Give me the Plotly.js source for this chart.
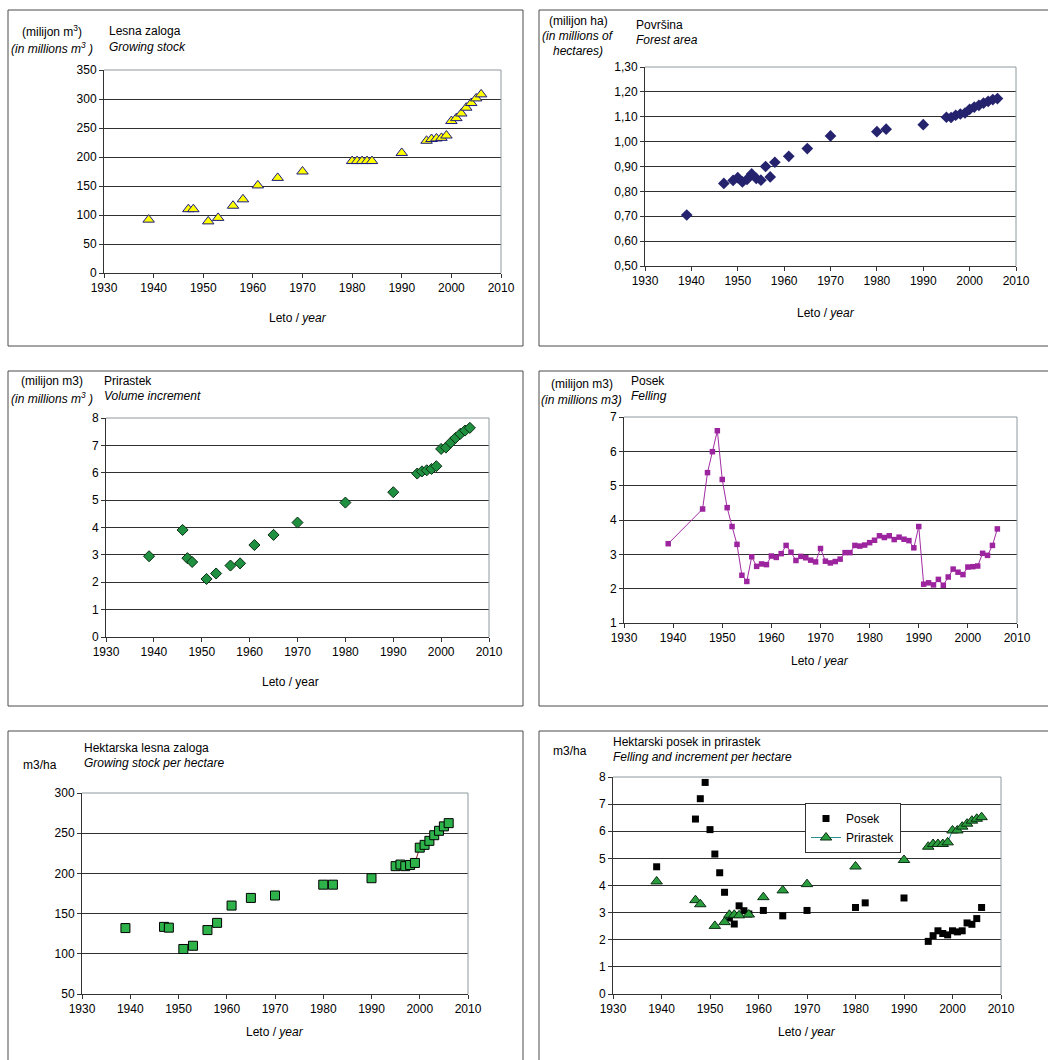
<!DOCTYPE html>
<html>
<head>
<meta charset="utf-8">
<script src="https://cdn.plot.ly/plotly-3.0.1.min.js"></script>
<style>
html,body{margin:0;padding:0;background:#fff;}
#chart{width:1048px;height:1060px;}
</style>
</head>
<body>
<div id="chart"></div>
<script>
// ---------------- DATA ----------------
const xTickYears = [1930, 1940, 1950, 1960, 1970, 1980, 1990, 2000, 2010];

// Lesna zaloga / Growing stock (million m3)
const stockYears  = [1939, 1947, 1948, 1951, 1953, 1956, 1958, 1961, 1965, 1970, 1980, 1981, 1982, 1983, 1984, 1990, 1995, 1996, 1997, 1998, 1999, 2000, 2001, 2002, 2003, 2004, 2005, 2006];
const stockValues = [92, 110, 110, 89, 95, 116, 127, 151, 164, 175, 193, 193, 193, 193, 193, 207, 228, 231, 232, 233, 237, 262, 267, 275, 285, 293, 301, 308];

// Površina / Forest area (million ha)
const areaYears  = [1939, 1947, 1949, 1950, 1951, 1952, 1953, 1954, 1955, 1956, 1957, 1958, 1961, 1965, 1970, 1980, 1982, 1990, 1995, 1996, 1997, 1998, 1999, 2000, 2001, 2002, 2003, 2004, 2005, 2006];
const areaValues = [0.705, 0.832, 0.844, 0.855, 0.838, 0.848, 0.870, 0.852, 0.845, 0.900, 0.858, 0.917, 0.941, 0.972, 1.023, 1.040, 1.050, 1.068, 1.098, 1.097, 1.106, 1.111, 1.115, 1.130, 1.139, 1.146, 1.155, 1.162, 1.169, 1.173];

// Prirastek / Volume increment (million m3)
const incrYears  = [1939, 1946, 1947, 1948, 1951, 1953, 1956, 1958, 1961, 1965, 1970, 1980, 1990, 1995, 1996, 1997, 1998, 1999, 2000, 2001, 2002, 2003, 2004, 2005, 2006];
const incrValues = [2.95, 3.91, 2.88, 2.74, 2.12, 2.32, 2.61, 2.69, 3.36, 3.73, 4.18, 4.91, 5.29, 5.97, 6.05, 6.09, 6.14, 6.24, 6.87, 6.92, 7.10, 7.27, 7.42, 7.54, 7.64];

// Posek / Felling (million m3)
const fellYears  = [1939, 1946, 1947, 1948, 1949, 1950, 1951, 1952, 1953, 1954, 1955, 1956, 1957, 1958, 1959, 1960, 1961, 1962, 1963, 1964, 1965, 1966, 1967, 1968, 1969, 1970, 1971, 1972, 1973, 1974, 1975, 1976, 1977, 1978, 1979, 1980, 1981, 1982, 1983, 1984, 1985, 1986, 1987, 1988, 1989, 1990, 1991, 1992, 1993, 1994, 1995, 1996, 1997, 1998, 1999, 2000, 2001, 2002, 2003, 2004, 2005, 2006];
const fellValues = [3.31, 4.32, 5.38, 5.99, 6.60, 5.18, 4.36, 3.81, 3.29, 2.39, 2.21, 2.93, 2.65, 2.72, 2.70, 2.95, 2.91, 3.02, 3.26, 3.06, 2.82, 2.94, 2.90, 2.83, 2.78, 3.17, 2.80, 2.75, 2.79, 2.86, 3.05, 3.05, 3.26, 3.24, 3.27, 3.34, 3.41, 3.54, 3.49, 3.54, 3.43, 3.50, 3.44, 3.40, 3.19, 3.81, 2.13, 2.17, 2.11, 2.27, 2.10, 2.34, 2.57, 2.48, 2.41, 2.63, 2.64, 2.66, 3.03, 2.97, 3.26, 3.74];

// Hektarska lesna zaloga / Growing stock per hectare (m3/ha)
const stockHaYears  = [1939, 1947, 1948, 1951, 1953, 1956, 1958, 1961, 1965, 1970, 1980, 1982, 1990, 1995, 1996, 1997, 1998, 1999, 2000, 2001, 2002, 2003, 2004, 2005, 2006];
const stockHaValues = [132, 133.5, 132.5, 106, 110, 129.5, 138.5, 160, 169.5, 172.5, 186, 186, 194, 209, 211, 209, 210.5, 213, 232, 235.5, 240.5, 247.5, 253, 258.5, 262.5];

// Hektarski posek / Felling per hectare (m3/ha)
const fellHaYears  = [1939, 1947, 1948, 1949, 1950, 1951, 1952, 1953, 1954, 1955, 1956, 1957, 1958, 1961, 1965, 1970, 1980, 1982, 1990, 1995, 1996, 1997, 1998, 1999, 2000, 2001, 2002, 2003, 2004, 2005, 2006];
const fellHaValues = [4.69, 6.45, 7.20, 7.80, 6.06, 5.16, 4.47, 3.75, 2.80, 2.58, 3.25, 3.07, 2.95, 3.08, 2.88, 3.08, 3.19, 3.36, 3.54, 1.94, 2.15, 2.33, 2.23, 2.18, 2.33, 2.29, 2.33, 2.62, 2.57, 2.78, 3.19];

// Hektarski prirastek / Increment per hectare (m3/ha)
const incrHaYears  = [1939, 1947, 1948, 1951, 1953, 1954, 1955, 1956, 1958, 1961, 1965, 1970, 1980, 1990, 1995, 1996, 1997, 1998, 1999, 2000, 2001, 2002, 2003, 2004, 2005, 2006];
const incrHaValues = [4.15, 3.46, 3.31, 2.51, 2.65, 2.92, 2.92, 2.90, 2.93, 3.57, 3.82, 4.05, 4.70, 4.94, 5.43, 5.53, 5.53, 5.53, 5.59, 6.03, 6.03, 6.17, 6.28, 6.39, 6.46, 6.52];

// ---------------- LAYOUT HELPERS ----------------
const W = 1048, H = 1060;
const fx = p => p / W;
const fy = p => 1 - p / H;

// break a line wherever consecutive years are not adjacent (Excel blank cells)
function withGaps(xs, ys) {
  const X = [], Y = [];
  for (let i = 0; i < xs.length; i++) {
    if (i > 0 && xs[i] - xs[i - 1] > 1) { X.push((xs[i] + xs[i - 1]) / 2); Y.push(null); }
    X.push(xs[i]); Y.push(ys[i]);
  }
  return {x: X, y: Y};
}

const panels = [
  {xd: [104, 501], yd: [70, 273], yr: [0, 350], dt: 50, t0: 0},
  {xd: [645, 1016], yd: [67, 266], yr: [0.5, 1.3], dt: 0.1, t0: 0.5, fmt: '.2f'},
  {xd: [106, 489], yd: [418, 637], yr: [0, 8], dt: 1, t0: 0},
  {xd: [624, 1017], yd: [417, 623], yr: [1, 7], dt: 1, t0: 1},
  {xd: [82, 468], yd: [793, 994], yr: [50, 300], dt: 50, t0: 50},
  {xd: [613, 1001], yd: [777, 994], yr: [0, 8], dt: 1, t0: 0}
];

const FONT = 'Liberation Sans, Arial, sans-serif';
const layout = {
  width: W, height: H,
  margin: {l: 0, r: 0, t: 0, b: 0},
  paper_bgcolor: '#ffffff',
  plot_bgcolor: '#ffffff',
  separators: ',.',
  font: {family: FONT, size: 12, color: '#000'},
  showlegend: true,
  legend: {
    x: fx(805), y: fy(803), xanchor: 'left', yanchor: 'top',
    bgcolor: '#ffffff', bordercolor: '#333333', borderwidth: 1,
    font: {family: FONT, size: 12, color: '#000'},
    itemwidth: 30, tracegroupgap: 0
  },
  shapes: [],
  annotations: []
};

panels.forEach((p, i) => {
  const n = i + 1;
  const xk = n === 1 ? 'xaxis' : 'xaxis' + n;
  const yk = n === 1 ? 'yaxis' : 'yaxis' + n;
  layout[xk] = {
    domain: [fx(p.xd[0]), fx(p.xd[1])],
    anchor: 'y' + (n === 1 ? '' : n),
    range: [1930, 2010], tickmode: 'array', tickvals: xTickYears,
    ticks: 'outside', ticklen: 4, tickcolor: '#333', tickwidth: 1,
    showline: true, linecolor: '#333333', linewidth: 1,
    showgrid: false, zeroline: false, fixedrange: true,
    tickfont: {family: FONT, size: 12, color: '#000'}
  };
  layout[yk] = {
    domain: [fy(p.yd[1]), fy(p.yd[0])],
    anchor: 'x' + (n === 1 ? '' : n),
    range: p.yr, tick0: p.t0, dtick: p.dt, tickformat: p.fmt || '',
    ticks: 'outside', ticklen: 4, tickcolor: '#333', tickwidth: 1,
    showline: true, linecolor: '#333333', linewidth: 1,
    showgrid: true, gridcolor: '#303030', gridwidth: 1,
    zeroline: false, fixedrange: true,
    tickfont: {family: FONT, size: 12, color: '#000'}
  };
  const xs = 'x' + (n === 1 ? '' : n);
  const ys = 'y' + (n === 1 ? '' : n);
  // plot-area top and right borders (grey)
  layout.shapes.push({type: 'line', xref: xs + ' domain', yref: ys + ' domain', x0: 0, x1: 1, y0: 1, y1: 1, line: {color: '#8e999e', width: 1}, layer: 'above'});
  layout.shapes.push({type: 'line', xref: xs + ' domain', yref: ys + ' domain', x0: 1, x1: 1, y0: 0, y1: 1, line: {color: '#8e999e', width: 1}, layer: 'above'});
});

// panel frames
[[8, 10, 523, 346], [539, 10, 1070, 346], [8, 371, 523, 706], [539, 371, 1070, 706], [8, 731, 523, 1080], [539, 731, 1070, 1080]].forEach(b => {
  layout.shapes.push({type: 'rect', xref: 'paper', yref: 'paper', x0: fx(b[0]), x1: fx(b[2]), y0: fy(b[3]), y1: fy(b[1]), line: {color: '#4a4a4a', width: 1}, layer: 'above'});
});

function txt(text, x, y, anchor) {
  layout.annotations.push({text: text, x: fx(x), y: fy(y), xref: 'paper', yref: 'paper', xanchor: anchor || 'left', yanchor: 'middle', showarrow: false, font: {family: FONT, size: 12, color: '#000'}, borderpad: 0});
}
// Panel 1
txt('(milijon m<sup>3</sup>)', 52, 31, 'center');
txt('<i>(in millions m<sup>3</sup> )</i>', 52, 48, 'center');
txt('Lesna zaloga', 108, 31);
txt('<i>Growing stock</i>', 108, 47);
txt('Leto / <i>year</i>', 298, 318, 'center');
// Panel 2
txt('(milijon ha)', 578, 21, 'center');
txt('<i>(in millions of</i>', 578, 36, 'center');
txt('<i>hectares)</i>', 578, 51, 'center');
txt('Površina', 635, 25);
txt('<i>Forest area</i>', 635, 40);
txt('Leto / <i>year</i>', 826, 313, 'center');
// Panel 3
txt('(milijon m3)', 52, 381, 'center');
txt('<i>(in millions m<sup>3</sup> )</i>', 52, 398, 'center');
txt('Prirastek', 103, 381);
txt('<i>Volume increment</i>', 103, 396);
txt('Leto / year', 290, 682, 'center');
// Panel 4
txt('(milijon m3)', 582, 384, 'center');
txt('<i>(in millions m3)</i>', 581, 400, 'center');
txt('Posek', 630, 381);
txt('<i>Felling</i>', 630, 396);
txt('Leto / <i>year</i>', 820, 661, 'center');
// Panel 5
txt('Hektarska lesna zaloga', 83, 748);
txt('<i>Growing stock per hectare</i>', 83, 763);
txt('m3/ha', 22, 765);
txt('Leto / <i>year</i>', 275, 1032, 'center');
// Panel 6
txt('Hektarski posek in prirastek', 612, 742);
txt('<i>Felling and increment per hectare</i>', 612, 757);
txt('m3/ha', 552, 751);
txt('Leto / <i>year</i>', 807, 1032, 'center');

// ---------------- TRACES ----------------
const g5 = withGaps(stockHaYears, stockHaValues);
const g6 = withGaps(incrHaYears, incrHaValues);

const traces = [
  {x: stockYears, y: stockValues, xaxis: 'x', yaxis: 'y', type: 'scatter', mode: 'markers', showlegend: false,
   marker: {symbol: 'triangle-up', size: 10, color: '#ffff00', line: {color: '#1a1a80', width: 1}}},
  {x: areaYears, y: areaValues, xaxis: 'x2', yaxis: 'y2', type: 'scatter', mode: 'markers', showlegend: false,
   marker: {symbol: 'diamond', size: 9, color: '#25236e', line: {color: '#25236e', width: 0}}},
  {x: incrYears, y: incrValues, xaxis: 'x3', yaxis: 'y3', type: 'scatter', mode: 'markers', showlegend: false,
   marker: {symbol: 'diamond', size: 8.5, color: '#1f8f40', line: {color: '#0b2e14', width: 1}}},
  {x: fellYears, y: fellValues, xaxis: 'x4', yaxis: 'y4', type: 'scatter', mode: 'lines+markers', showlegend: false,
   line: {color: '#a12ca3', width: 1}, marker: {symbol: 'square', size: 5.5, color: '#9c249e'}},
  {x: g5.x, y: g5.y, xaxis: 'x5', yaxis: 'y5', type: 'scatter', mode: 'lines+markers', connectgaps: false, showlegend: false,
   line: {color: '#8b2020', width: 1}, marker: {symbol: 'square', size: 9, color: '#2db34a', line: {color: '#000', width: 1}}},
  {x: fellHaYears, y: fellHaValues, xaxis: 'x6', yaxis: 'y6', type: 'scatter', mode: 'markers', name: 'Posek',
   marker: {symbol: 'square', size: 7, color: '#000000'}},
  {x: g6.x, y: g6.y, xaxis: 'x6', yaxis: 'y6', type: 'scatter', mode: 'lines+markers', connectgaps: false, name: 'Prirastek',
   line: {color: '#2a9090', width: 1}, marker: {symbol: 'triangle-up', size: 10, color: '#2a9d3c', line: {color: '#0b2e14', width: 1}}}
];

Plotly.newPlot('chart', traces, layout, {staticPlot: true, displayModeBar: false});
</script>
</body>
</html>
